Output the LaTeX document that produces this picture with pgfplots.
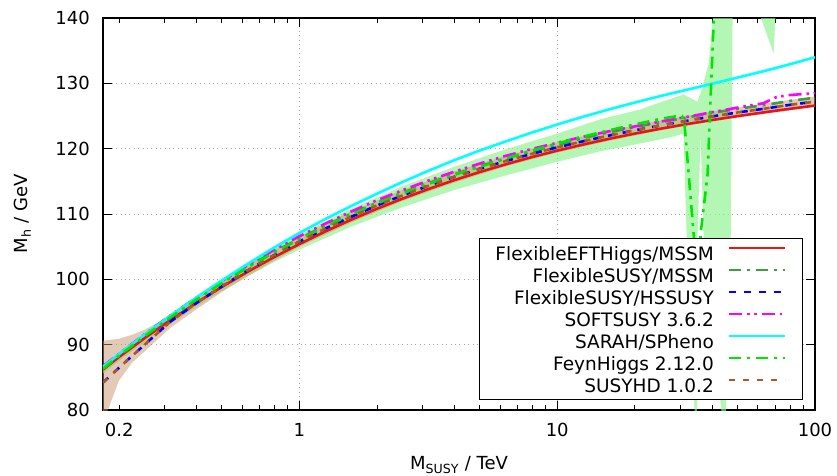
\documentclass[border=0pt]{standalone}
\usepackage{fontspec}
\setmainfont{DejaVu Sans}
\usepackage{pgfplots}
\pgfplotsset{compat=1.18}

\definecolor{cEFT}{RGB}{235,20,20}
\definecolor{cFS}{RGB}{60,160,60}
\definecolor{cHS}{RGB}{0,0,255}
\definecolor{cSS}{RGB}{255,0,255}
\definecolor{cSP}{RGB}{0,255,255}
\definecolor{cFH}{RGB}{0,230,0}
\definecolor{cHD}{RGB}{165,90,45}
\definecolor{bandFH}{RGB}{140,242,140}
\definecolor{bandHD}{RGB}{200,150,110}

\begin{document}
\begin{tikzpicture}
\begin{axis}[
  at={(0,0)}, anchor=south west,
  scale only axis, width=712pt, height=392pt,
  xmode=log, xmin=0.173, xmax=100, ymin=80, ymax=140,
  xtick={1,10,100}, xticklabels={1,10,100},
  extra x ticks={0.2}, extra x tick labels={0.2},
  extra x tick style={grid=none, major tick length=5pt},
  minor xtick={0.3,0.4,0.5,0.6,0.7,0.8,0.9,2,3,4,5,6,7,8,9,20,30,40,50,60,70,80,90},
  ytick={80,90,...,140},
  tick align=inside,
  major tick length=9pt, minor tick length=5pt,
  every tick/.style={black, line width=0.9pt},
  axis line style={line width=1.2pt},
  grid=major,
  major grid style={gray!70, line width=0.8pt, dash pattern=on 0.8pt off 3.6pt},
  /pgf/number format/assume math mode=true,
  tick label style={font=\fontsize{18}{18}\selectfont, inner sep=0pt},
  yticklabel style={anchor=east, xshift=-13pt},
  xticklabel style={anchor=north, yshift=-13pt},
  xlabel={M\textsubscript{SUSY} / TeV},
  ylabel={M\textsubscript{h} / GeV},
  every axis x label/.style={at={(axis description cs:0.5,-0.153)}, anchor=base,
    font=\fontsize{18}{18}\selectfont},
  every axis y label/.style={at={(axis description cs:-0.1063,0.5)}, anchor=base, rotate=90,
    font=\fontsize{18}{18}\selectfont},
  legend cell align=right, legend plot pos=right,
  legend image code/.code={\draw[#1] (0pt,5pt) -- (56pt,5pt);},
  legend style={at={(rel axis cs:0.983,0.0255)}, anchor=south east,
    draw=black, line width=1pt, fill=white,
    font=\fontsize{18.5}{22}\selectfont,
    inner xsep=16pt, inner ysep=5.5pt, row sep=4pt,
    nodes={inner sep=0pt, text height=16pt, text depth=2pt},
    /tikz/every odd column/.append style={column sep=14pt}},
]

% FeynHiggs uncertainty band
\addplot[forget plot, draw=none, fill=bandFH, fill opacity=0.65] coordinates {
 (0.173,86.9) (0.1995,88.8) (0.2512,91.8) (0.3162,94.7) (0.3981,97.4) (0.5012,99.96)
 (0.631,102.38) (0.7943,104.71) (1,106.9) (1.585,110.81) (2.512,114.25) (3.981,117.22)
 (6.31,119.9) (10,122.3) (14.7,124.5) (21,126.0) (26,127.3) (30.9,128.3)
 (35.0,127.2) (36.3,129.0) (38.7,133.0) (40.3,140.5) (41,145)
 (48,145) (47.1,106) (45,78) (43.8,78) (37.0,106.5) (36.0,122.0) (35.0,106.5)
 (34.9,78) (34.3,78) (31.8,106.5) (30.9,122.3) (27.2,121.7) (21,120.8) (14.7,119.6)
 (10,118.0) (6.31,115.9) (3.981,113.67) (2.512,111.05) (1.585,108.06) (1,104.55)
 (0.7943,102.61) (0.631,100.48) (0.5012,98.21) (0.3981,95.8) (0.3162,93.2)
 (0.2512,90.4) (0.1995,87.5) (0.173,85.6)
};
\addplot[forget plot, draw=none, fill=bandFH, fill opacity=0.65] coordinates {
 (60.4,141) (69.1,134.6) (70.4,141)
};
% SUSYHD uncertainty band
\addplot[forget plot, draw=none, fill=bandHD, fill opacity=0.5] coordinates {
 (0.173,90.6) (0.1995,90.9) (0.2239,91.5) (0.2512,92.3) (0.3162,94.4) (0.3981,97.2)
 (0.5012,99.8) (0.631,102.2) (0.7943,104.5) (1,106.6) (1.585,110.4) (2.512,113.7)
 (3.981,116.5) (6.31,118.9) (10,121.0) (15.85,122.8) (25.12,124.3) (39.81,125.7)
 (63.1,126.9) (100,128.0)
 (100,126.4) (63.1,125.3) (39.81,124.2) (25.12,122.8) (15.85,121.2) (10,119.4)
 (6.31,117.3) (3.981,114.8) (2.512,112.0) (1.585,108.7) (1,105.0) (0.7943,102.8)
 (0.631,100.5) (0.5012,98.1) (0.3981,95.4) (0.3162,92.6) (0.2512,89.0) (0.2239,87.2)
 (0.1995,84.5) (0.182,80.3) (0.173,78.5)
};

\addplot[cEFT, line width=2.6pt] coordinates {
 (0.173,86.20) (0.1995,88.10) (0.2512,91.02) (0.3162,93.79) (0.3981,96.40)
 (0.5012,98.86) (0.631,101.18) (0.7943,103.36) (1,105.40) (1.259,107.32)
 (1.585,109.11) (1.995,110.79) (2.512,112.35) (3.162,113.81) (3.981,115.17)
 (5.012,116.43) (6.31,117.60) (7.943,118.69) (10,119.70) (12.59,120.63)
 (15.85,121.50) (19.95,122.30) (25.12,123.05) (31.62,123.74) (39.81,124.38)
 (50.12,124.99) (63.1,125.55) (79.43,126.09) (100,126.60)
};
\addlegendentry{FlexibleEFTHiggs/MSSM}

\addplot[cFS, line width=2.6pt, dash pattern=on 12pt off 6pt on 3pt off 6pt] coordinates {
 (0.173,86.40) (0.1995,88.40) (0.2512,91.42) (0.3162,94.29) (0.3981,97.00)
 (0.5012,99.56) (0.631,101.98) (0.7943,104.16) (1,106.20) (1.259,108.22)
 (1.585,110.01) (1.995,111.69) (2.512,113.25) (3.162,114.71) (3.981,116.07)
 (5.012,117.33) (6.31,118.50) (7.943,119.59) (10,120.60) (12.59,121.63)
 (15.85,122.50) (19.95,123.30) (25.12,124.05) (31.62,124.74) (39.81,125.48)
 (50.12,126.09) (63.1,126.65) (79.43,127.29) (100,127.80)
};
\addlegendentry{FlexibleSUSY/MSSM}

\addplot[cHS, line width=2.6pt, dash pattern=on 7pt off 8pt] coordinates {
 (0.173,84.20) (0.1995,86.45) (0.2512,90.02) (0.3162,93.54) (0.3981,96.35)
 (0.5012,98.96) (0.631,101.38) (0.7943,103.66) (1,105.80) (1.259,107.77)
 (1.585,109.56) (1.995,111.29) (2.512,112.85) (3.162,114.31) (3.981,115.67)
 (5.012,116.93) (6.31,118.10) (7.943,119.19) (10,120.20) (12.59,121.13)
 (15.85,122.00) (19.95,122.80) (25.12,123.55) (31.62,124.24) (39.81,124.93)
 (50.12,125.54) (63.1,126.10) (79.43,126.69) (100,127.20)
};
\addlegendentry{FlexibleSUSY/HSSUSY}

\addplot[cSS, line width=2.6pt, dash pattern=on 13pt off 5pt on 2.5pt off 4.5pt on 2.5pt off 5pt] coordinates {
 (0.173,86.70) (0.1995,88.60) (0.2512,91.62) (0.3162,94.49) (0.3981,97.20)
 (0.5012,99.76) (0.631,102.18) (0.7943,104.46) (1,106.60) (1.259,108.52)
 (1.585,110.36) (1.995,112.09) (2.512,113.65) (3.162,115.11) (3.981,116.47)
 (5.012,117.73) (6.31,118.90) (7.943,119.94) (10,120.90) (12.59,121.83)
 (15.85,122.65) (19.95,123.40) (25.12,124.15) (31.62,124.84) (39.81,125.58)
 (50.12,126.29) (63.1,126.95) (70.79,127.90) (79.43,128.20) (100,128.50)
};
\addlegendentry{SOFTSUSY 3.6.2}

\addplot[cSP, line width=2.6pt] coordinates {
 (0.173,86.60) (0.1995,88.55) (0.2512,91.57) (0.3162,94.44) (0.3981,97.20)
 (0.5012,99.86) (0.631,102.38) (0.7943,104.81) (1,107.10) (1.259,109.22)
 (1.585,111.21) (1.995,113.09) (2.512,114.90) (3.162,116.61) (3.981,118.22)
 (5.012,119.73) (6.31,121.10) (7.943,122.44) (10,123.70) (12.59,124.88)
 (15.85,126.00) (19.95,127.05) (25.12,128.05) (31.62,128.99) (39.81,129.93)
 (50.12,130.89) (63.1,131.85) (79.43,132.89) (100,134.00)
};
\addlegendentry{SARAH/SPheno}

\addplot[cFH, line width=2.6pt, dash pattern=on 12pt off 6pt on 3pt off 6pt] coordinates {
 (0.173,86.30) (0.1995,88.30) (0.2512,91.32) (0.3162,94.19) (0.3981,96.90)
 (0.5012,99.46) (0.631,101.83) (0.7943,104.06) (1,106.10) (1.259,108.07)
 (1.585,109.91) (1.995,111.59) (2.512,113.15) (3.162,114.61) (3.981,115.97)
 (5.012,117.23) (6.31,118.50) (7.943,119.69) (10,120.80) (12.59,121.83)
 (15.85,122.80) (19.95,123.70) (25.12,124.55) (28.8,124.95) (30.5,125.0)
 (31.2,123.6) (33.9,106.5) (35.0,95.0) (36.0,107.0) (38.3,116.0) (40.5,140.0)
 (41.5,152.0)
};
\addlegendentry{FeynHiggs 2.12.0}

\addplot[cHD, line width=2.6pt, dash pattern=on 6pt off 8pt] coordinates {
 (0.173,84.20) (0.1995,86.45) (0.2512,90.02) (0.3162,93.54) (0.3981,96.35)
 (0.5012,98.96) (0.631,101.38) (0.7943,103.66) (1,105.80) (1.259,107.77)
 (1.585,109.56) (1.995,111.29) (2.512,112.85) (3.162,114.31) (3.981,115.67)
 (5.012,116.93) (6.31,118.10) (7.943,119.19) (10,120.20) (12.59,121.13)
 (15.85,122.00) (19.95,122.80) (25.12,123.55) (31.62,124.24) (39.81,124.93)
 (50.12,125.54) (63.1,126.10) (79.43,126.69) (100,127.20)
};
\addlegendentry{SUSYHD 1.0.2}

\end{axis}
\pgfresetboundingbox
\path[use as bounding box] (-103pt,-65pt) rectangle (734pt,410pt);
\end{tikzpicture}
\end{document}
